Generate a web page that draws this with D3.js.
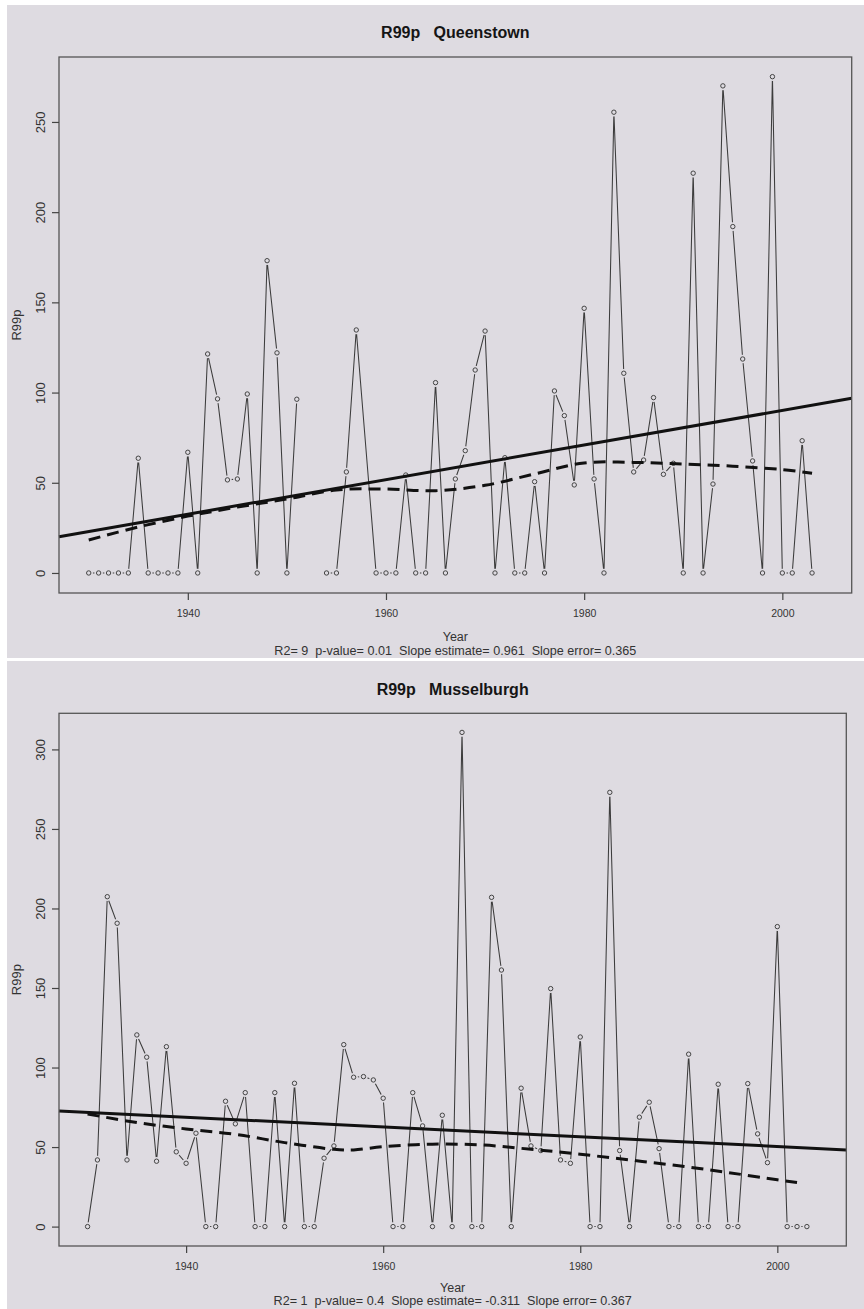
<!DOCTYPE html>
<html><head><meta charset="utf-8">
<script src="https://cdn.jsdelivr.net/npm/d3@7"></script>
<style>
html,body{margin:0;padding:0;background:#fff;}
svg{display:block;font-family:"Liberation Sans",Arial,sans-serif;}
</style></head><body>
<svg id="c" width="864" height="1309"></svg>
<script>
// ---------- Queenstown ----------
const yearsQ = [1930,1931,1932,1933,1934,1935,1936,1937,1938,1939,1940,1941,1942,1943,1944,1945,1946,1947,1948,1949,1950,1951,1952,1953,1954,1955,1956,1957,1959,1960,1961,1962,1963,1964,1965,1966,1967,1968,1969,1970,1971,1972,1973,1974,1975,1976,1977,1978,1979,1980,1981,1982,1983,1984,1985,1986,1987,1988,1989,1990,1991,1992,1993,1994,1995,1996,1997,1998,1999,2000,2001,2002,2003];
const valuesQ = [0,0,0,0,0,63.6,0,0,0,0,66.9,0,121.4,96.5,51.6,52.1,99.2,0,173.1,122,0,96.3,null,null,0,0,56,134.7,0,0,0,54.3,0,0,105.5,0,52.1,67.8,112.5,134.1,0,63.9,0,0,50.6,0,100.9,87.2,48.8,146.7,52.1,0,255.4,110.7,56,62.6,97.2,54.7,60.8,0,221.6,0,49.3,270,192,118.6,62.1,0,275.1,0,0,73.3,0];
const loessYearsQ = [1930,1935,1940,1945,1950,1955,1960,1965,1970,1975,1980,1985,1990,1995,2000,2003];
const loessQ = [18.3,25.5,31.5,36.5,41,46,46.5,45.6,48.6,54.9,61,61.3,60.4,59.2,57.3,55.3];
const trendYearsQ = [1927.0, 2007.0];
const trendQ = [20.1, 96.8];
const yTicksQ = [0,50,100,150,200,250];
const titleQ = "R99p   Queenstown";
const statsQ = "R2= 9  p-value= 0.01  Slope estimate= 0.961  Slope error= 0.365";

// ---------- Musselburgh ----------
const yearsM = [1930,1931,1932,1933,1934,1935,1936,1937,1938,1939,1940,1941,1942,1943,1944,1945,1946,1947,1948,1949,1950,1951,1952,1953,1954,1955,1956,1957,1958,1959,1960,1961,1962,1963,1964,1965,1966,1967,1968,1969,1970,1971,1972,1973,1974,1975,1976,1977,1978,1979,1980,1981,1982,1983,1984,1985,1986,1987,1988,1989,1990,1991,1992,1993,1994,1995,1996,1997,1998,1999,2000,2001,2002,2003];
const valuesM = [0,41.9,207.4,190.7,41.9,120.5,106.5,41.1,113.1,47,39.8,58.7,0,0,78.8,64.6,84.2,0,0,84.2,0,90.1,0,0,43,50.7,114.4,93.9,94.3,92.2,80.7,0,0,84.2,63.3,0,70,0,310.7,0,0,207,161.3,0,87,50.7,47.8,149.6,41.9,39.8,119.2,0,0,273,47.8,0,68.8,78.2,49,0,0,108.4,0,0,89.5,0,0,89.9,58.3,40.2,188.6,0,0,0];
const loessYearsM = [1930,1935,1940,1945,1950,1955,1957,1960,1965,1970,1975,1980,1985,1990,1995,2000,2002];
const loessM = [70.8,65.4,61.4,58,52.8,48.6,48.2,50.3,51.8,51.3,48.6,45.5,41.9,38.2,34,29.4,27.7];
const trendYearsM = [1927.1, 2007.0];
const trendM = [72.7, 48.2];
const yTicksM = [0,50,100,150,200,250,300];
const titleM = "R99p   Musselburgh";
const statsM = "R2= 1  p-value= 0.4  Slope estimate= -0.311  Slope error= 0.367";

const xTicks = [1940,1960,1980,2000];
const yLabel = "R99p", xLabel = "Year";

const BG = "#dedbe1";
const svg = d3.select("#c");

function panel(o){
  const g = svg.append("g");
  g.append("rect").attr("x",o.px).attr("y",o.py).attr("width",o.pw).attr("height",o.ph).attr("fill",BG);
  const x = d3.scaleLinear().domain(o.xDom).range([o.L,o.R]);
  const y = d3.scaleLinear().domain(o.yDom).range([o.B,o.T]);

  // data line
  const pts = o.years.map((yr,i)=>({yr, v:o.values[i]}));
  const line = d3.line().defined(d=>d.v!=null).x(d=>x(d.yr)).y(d=>y(d.v));
  g.append("path").attr("d",line(pts)).attr("fill","none").attr("stroke","#3c3c3c").attr("stroke-width",1.05);
  const real = pts.filter(d=>d.v!=null);
  g.selectAll("circle.gap").data(real).join("circle").attr("class","gap")
    .attr("cx",d=>x(d.yr)).attr("cy",d=>y(d.v)).attr("r",4.3).attr("fill",BG);
  g.selectAll("circle.pt").data(real).join("circle").attr("class","pt")
    .attr("cx",d=>x(d.yr)).attr("cy",d=>y(d.v)).attr("r",2.2)
    .attr("fill","none").attr("stroke","#444").attr("stroke-width",1);

  // trend line
  const tr = o.trendYears.map((yr,i)=>({yr, v:o.trend[i]}));
  g.append("path").attr("d",d3.line().x(d=>x(d.yr)).y(d=>y(d.v))(tr))
    .attr("fill","none").attr("stroke","#111").attr("stroke-width",3);
  // loess dashed
  const lo = o.loessYears.map((yr,i)=>({yr, v:o.loess[i]}));
  g.append("path").attr("d",d3.line().curve(d3.curveCatmullRom).x(d=>x(d.yr)).y(d=>y(d.v))(lo))
    .attr("fill","none").attr("stroke","#111").attr("stroke-width",3).attr("stroke-dasharray","12,7");

  // frame
  g.append("rect").attr("x",o.L).attr("y",o.T).attr("width",o.R-o.L).attr("height",o.B-o.T)
    .attr("fill","none").attr("stroke","#555").attr("stroke-width",1.3);

  // x axis
  const xa = g.append("g").attr("transform",`translate(0,${o.B})`)
    .call(d3.axisBottom(x).tickValues(xTicks).tickSize(7).tickFormat(d3.format("d")));
  xa.select(".domain").remove();
  xa.selectAll("line").attr("stroke","#444").attr("stroke-width",1.2);
  xa.selectAll("text").attr("y",24).attr("dy",0).attr("fill","#333")
    .style("font-size","10.5px").style("font-family","'Liberation Sans',Arial,sans-serif");

  // y axis
  const ya = g.append("g").attr("transform",`translate(${o.L},0)`)
    .call(d3.axisLeft(y).tickValues(o.yTicks).tickSize(7));
  ya.select(".domain").remove();
  ya.selectAll("line").attr("stroke","#444").attr("stroke-width",1.2);
  ya.selectAll("text").attr("x",0).attr("dy",0).attr("text-anchor","middle")
    .attr("transform","translate(-14,0) rotate(-90)").attr("fill","#333")
    .style("font-size","13px").style("font-family","'Liberation Sans',Arial,sans-serif");

  const cx = (o.L+o.R)/2;
  g.append("text").attr("x",cx).attr("y",o.T-18.7).attr("text-anchor","middle")
    .style("font-size","16px").style("font-weight","bold").style("white-space","pre")
    .attr("fill","#151515").text(o.title);
  g.append("text").attr("x",cx).attr("y",o.B+o.yearOff).attr("text-anchor","middle")
    .style("font-size","12.5px").attr("fill","#333").text(xLabel);
  g.append("text").attr("x",cx).attr("y",o.B+o.statsOff).attr("text-anchor","middle")
    .style("font-size","12.6px").style("white-space","pre").attr("fill","#333").text(o.stats);
  g.append("text").attr("transform",`translate(20.5,${(o.T+o.B)/2}) rotate(-90)`).attr("text-anchor","middle")
    .style("font-size","13px").attr("fill","#333").text(yLabel);
}

panel({px:7,py:5,pw:857,ph:653, L:59,R:851.7,T:57,B:593, yearOff:47.5, statsOff:61.5,
  xDom:[1927.0,2007.0], yDom:[-11.1,286.0],
  years:yearsQ, values:valuesQ, loessYears:loessYearsQ, loess:loessQ,
  trendYears:trendYearsQ, trend:trendQ, yTicks:yTicksQ, title:titleQ, stats:statsQ});
panel({px:7,py:661,pw:857,ph:648, L:59,R:846.3,T:713.3,B:1246, yearOff:45.5, statsOff:59,
  xDom:[1927.1,2007.0], yDom:[-12.2,322.7],
  years:yearsM, values:valuesM, loessYears:loessYearsM, loess:loessM,
  trendYears:trendYearsM, trend:trendM, yTicks:yTicksM, title:titleM, stats:statsM});
</script>
</body></html>
